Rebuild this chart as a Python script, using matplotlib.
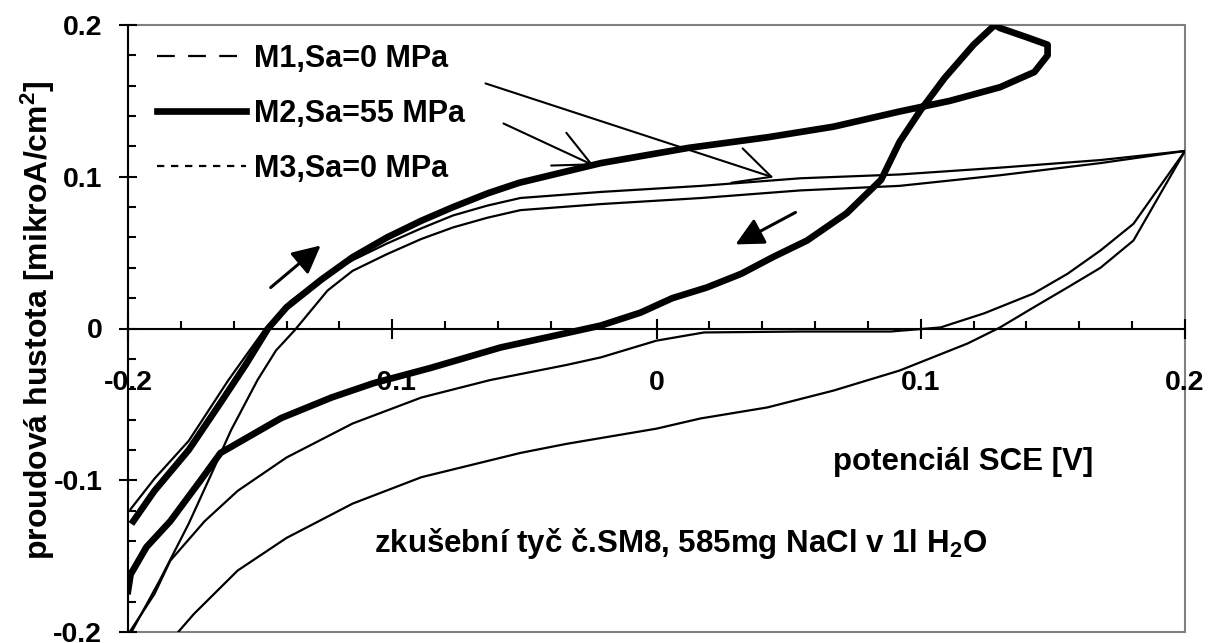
import matplotlib
matplotlib.use('Agg')
import matplotlib.pyplot as plt
from matplotlib.lines import Line2D
from matplotlib.patches import Rectangle
from matplotlib.ticker import FixedLocator, MultipleLocator

# ---------------- data (potential V, current density mikroA/cm2) ----------------
# M1, Sa=0 MPa : forward scan then reverse scan
m1_x = [-0.199, -0.190, -0.177, -0.162, -0.154, -0.148, -0.1385, -0.127, -0.115, -0.102,
        -0.089, -0.077, -0.064, -0.0515, -0.021, 0.017, 0.0545, 0.092, 0.130, 0.168, 0.200,
        0.1805, 0.168, 0.1555, 0.1426, 0.124, 0.1075, 0.0885, 0.0545, 0.018, 0.000, -0.021,
        -0.034, -0.063, -0.089, -0.115, -0.140, -0.1585, -0.171, -0.184, -0.190, -0.199]
m1_y = [-0.119, -0.099, -0.074, -0.034, -0.0145, 0.000, 0.018, 0.033, 0.045, 0.056,
        0.066, 0.0745, 0.081, 0.086, 0.090, 0.094, 0.099, 0.1015, 0.106, 0.111, 0.117,
        0.069, 0.0514, 0.036, 0.023, 0.010, 0.0007, -0.002, -0.002, -0.0026, -0.008, -0.019,
        -0.024, -0.034, -0.0455, -0.0626, -0.085, -0.107, -0.127, -0.153, -0.175, -0.199]

# M2, Sa=55 MPa
m2_x = [-0.198, -0.190, -0.177, -0.165, -0.1555, -0.147, -0.140, -0.127, -0.115, -0.102,
        -0.089, -0.077, -0.064, -0.052, -0.021, 0.012, 0.042, 0.067, 0.092, 0.111, 0.130,
        0.143, 0.148, 0.148, 0.140, 0.130, 0.128,
        0.120, 0.109, 0.100, 0.092, 0.085, 0.072, 0.057, 0.044, 0.032, 0.019, 0.006, -0.006,
        -0.021, -0.034, -0.059, -0.0855, -0.107, -0.123, -0.142, -0.165, -0.1725, -0.184,
        -0.193, -0.199, -0.200]
m2_y = [-0.127, -0.107, -0.080, -0.049, -0.024, 0.000, 0.014, 0.032, 0.047, 0.060,
        0.071, 0.080, 0.089, 0.096, 0.109, 0.119, 0.126, 0.133, 0.143, 0.150, 0.159,
        0.169, 0.180, 0.187, 0.192, 0.198, 0.200,
        0.187, 0.165, 0.144, 0.123, 0.098, 0.076, 0.058, 0.047, 0.036, 0.027, 0.020, 0.0105,
        0.002, -0.003, -0.0125, -0.026, -0.036, -0.0455, -0.059, -0.082, -0.100, -0.127,
        -0.144, -0.162, -0.173]

# M3, Sa=0 MPa
m3_x = [-0.199, -0.188, -0.177, -0.169, -0.161, -0.151, -0.144, -0.137, -0.1245, -0.115,
        -0.102, -0.089, -0.077, -0.064, -0.0515, -0.021, 0.017, 0.0545, 0.092, 0.130, 0.168,
        0.200,
        0.1805, 0.168, 0.1555, 0.1426, 0.130, 0.1177, 0.092, 0.067, 0.042, 0.0166, 0.000,
        -0.034, -0.0515, -0.089, -0.115, -0.140, -0.1585, -0.175, -0.183]
m3_y = [-0.201, -0.166, -0.1285, -0.098, -0.067, -0.034, -0.0145, -0.0013, 0.025, 0.038,
        0.049, 0.059, 0.0666, 0.073, 0.078, 0.082, 0.086, 0.091, 0.094, 0.101, 0.109,
        0.117,
        0.058, 0.040, 0.027, 0.0138, 0.0007, -0.0099, -0.0277, -0.0409, -0.052, -0.0593, -0.066,
        -0.076, -0.082, -0.098, -0.1154, -0.138, -0.1595, -0.188, -0.204]

series_labels = ['M1,Sa=0 MPa', 'M2,Sa=55 MPa', 'M3,Sa=0 MPa']
x_ticks = [-0.2, -0.1, 0.0, 0.1, 0.2]
x_tick_labels = ['-0.2', '-0.1', '0', '0.1', '0.2']
y_ticks = [-0.2, -0.1, 0.0, 0.1, 0.2]
y_tick_labels = ['-0.2', '-0.1', '0', '0.1', '0.2']

# ---------------- style ----------------
plt.rcParams['font.family'] = ['Liberation Sans', 'DejaVu Sans']
plt.rcParams['font.weight'] = 'bold'
plt.rcParams['mathtext.fontset'] = 'custom'
plt.rcParams['mathtext.rm'] = 'Liberation Sans:bold'
plt.rcParams['mathtext.bf'] = 'Liberation Sans:bold'
plt.rcParams['mathtext.it'] = 'Liberation Sans:bold'
plt.rcParams['axes.unicode_minus'] = False

fig = plt.figure(figsize=(12.13, 6.43), dpi=100)
ax = fig.add_axes([128 / 1213, 11 / 643, 1057 / 1213, 607 / 643])
ax.set_xlim(-0.2, 0.2)
ax.set_ylim(-0.2, 0.2)

ax.plot(m1_x, m1_y, color='black', lw=1.6, zorder=3)
ax.plot(m3_x, m3_y, color='black', lw=1.6, zorder=3)
ax.plot(m2_x, m2_y, color='black', lw=4.8, zorder=4)

# frame: grey plot-area border, black axes
ax.add_patch(Rectangle((0, 0), 1, 1, transform=ax.transAxes, fill=False,
                       edgecolor='#808080', lw=1.5, clip_on=False, zorder=0.5))
for s in ['top', 'right']:
    ax.spines[s].set_visible(False)
ax.spines['bottom'].set_position(('data', 0))
ax.spines['bottom'].set_linewidth(1.5)
ax.spines['left'].set_linewidth(1.5)
ax.spines['bottom'].set_zorder(2)

ax.xaxis.set_major_locator(FixedLocator(x_ticks))
ax.xaxis.set_minor_locator(MultipleLocator(0.02))
ax.yaxis.set_major_locator(FixedLocator(y_ticks))
ax.yaxis.set_minor_locator(MultipleLocator(0.02))
ax.set_xticklabels(x_tick_labels)
ax.set_yticklabels(y_tick_labels)
ax.tick_params(axis='x', which='major', direction='inout', length=14, width=1.5,
               pad=23, labelsize=20.5)
ax.tick_params(axis='y', which='major', direction='inout', length=13, width=1.5,
               pad=12, labelsize=20.5)
ax.tick_params(which='minor', direction='in', length=6, width=1.5)
for lab in ax.get_xticklabels() + ax.get_yticklabels():
    lab.set_fontweight('bold')

# legend
handles = [Line2D([], [], color='black', lw=1.6, linestyle=(0, (8, 6))),
           Line2D([], [], color='black', lw=4.8),
           Line2D([], [], color='black', lw=1.6, linestyle=(0, (3.3, 3)))]
ax.legend(handles, series_labels, loc='upper left', bbox_to_anchor=(0.0274, 0.9687),
          frameon=False, fontsize=22, handlelength=2.9, handletextpad=0.26,
          labelspacing=0.82, borderaxespad=0, borderpad=0)

# pointer arrows from legend to curves
ax.annotate('', xy=(0.0443, 0.0995), xytext=(-0.0647, 0.1615),
            arrowprops=dict(arrowstyle='->,head_length=1.0,head_width=0.5',
                            mutation_scale=26, lw=1.5, color='black',
                            shrinkA=0, shrinkB=0), zorder=5)
ax.annotate('', xy=(-0.0238, 0.1075), xytext=(-0.0579, 0.1351),
            arrowprops=dict(arrowstyle='->,head_length=1.0,head_width=0.5',
                            mutation_scale=26, lw=1.5, color='black',
                            shrinkA=0, shrinkB=0), zorder=5)
# scan direction arrows
ax.annotate('', xy=(-0.1271, 0.0547), xytext=(-0.1460, 0.0270),
            arrowprops=dict(arrowstyle='-|>,head_length=1.0,head_width=0.5',
                            mutation_scale=17, lw=2.2, color='black',
                            shrinkA=0, shrinkB=0), zorder=5)
ax.annotate('', xy=(0.0299, 0.0554), xytext=(0.0526, 0.0765),
            arrowprops=dict(arrowstyle='-|>,head_length=1.0,head_width=0.5',
                            mutation_scale=17, lw=2.2, color='black',
                            shrinkA=0, shrinkB=0), zorder=5)

# texts
ax.text(0.1162, -0.0883, 'potenciál SCE [V]', ha='center', va='center',
        fontsize=22.5, fontweight='bold')
ax.text(0.009, -0.1417, r'zkušební tyč č.SM8, 585mg NaCl v 1l H$_{\mathbf{2}}$O',
        ha='center', va='center', fontsize=22.5, fontweight='bold')
fig.text(38 / 1213, 1 - 320 / 643, r'proudová hustota [mikroA/cm$^{\mathbf{2}}$]',
         rotation=90, ha='center', va='center', fontsize=23, fontweight='bold')

fig.savefig('out.png', dpi=100)
